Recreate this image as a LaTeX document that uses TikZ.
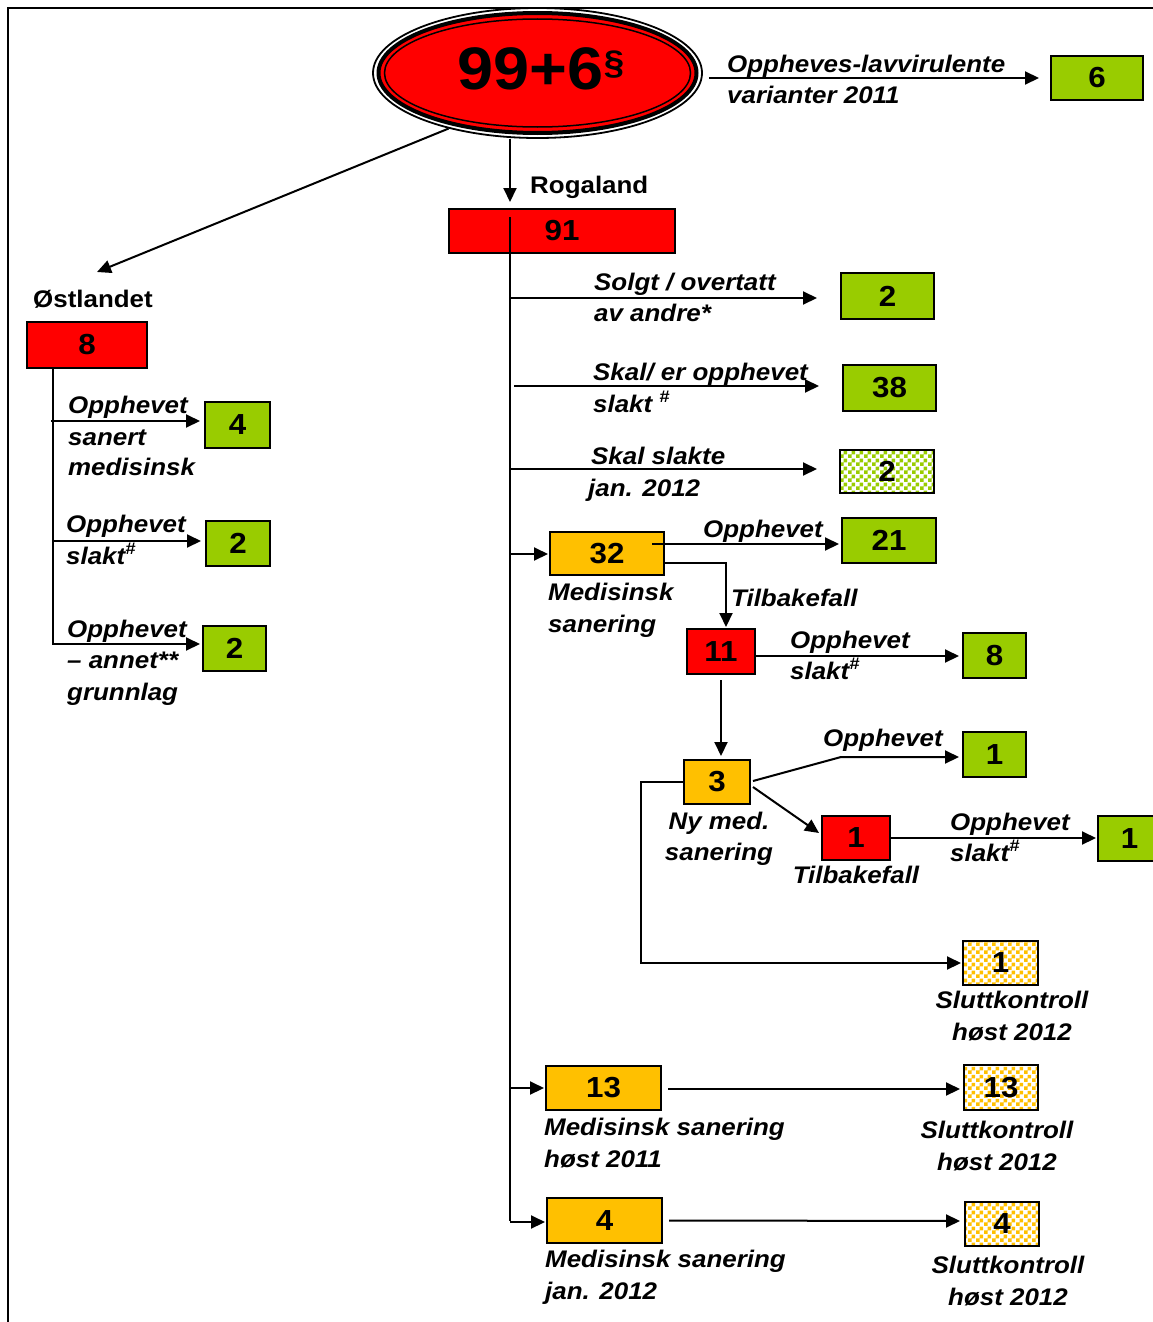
\documentclass[tikz,border=0pt]{standalone}
\usepackage{fontspec}
\setmainfont{Liberation Sans}[FakeStretch=1.08]
\usetikzlibrary{arrows.meta,patterns,shapes.geometric}
\definecolor{rd}{RGB}{255,0,0}
\definecolor{gr}{RGB}{153,204,0}
\definecolor{orn}{RGB}{255,192,0}
\pgfdeclarepatternformonly{chk}{\pgfpointorigin}{\pgfqpoint{8pt}{8pt}}{\pgfqpoint{8pt}{8pt}}{%
  \pgfpathrectangle{\pgfpointorigin}{\pgfqpoint{4pt}{4pt}}%
  \pgfpathrectangle{\pgfqpoint{4pt}{4pt}}{\pgfqpoint{4pt}{4pt}}%
  \pgfusepath{fill}}
\begin{document}
\begin{tikzpicture}[x=1pt,y=-1pt,
  lw/.style={line width=2pt},
  arr/.style={line width=2pt,-{Triangle[length=14pt,width=13pt]}},
  box/.style={draw,line width=2pt,inner sep=0pt,font=\fontsize{29}{29}\selectfont\bfseries},
  gbox/.style={box,fill=gr},
  rbox/.style={box,fill=rd},
  obox/.style={box,fill=orn},
  gchk/.style={box,preaction={fill=white},pattern=chk,pattern color=gr},
  ochk/.style={box,preaction={fill=white},pattern=chk,pattern color=orn},
  lbl/.style={anchor=base west,inner sep=0pt,font=\fontsize{24}{24}\selectfont\bfseries\itshape},
  clbl/.style={lbl,anchor=base},
  hdr/.style={anchor=base west,inner sep=0pt,font=\fontsize{24}{24}\selectfont\bfseries},
]
\useasboundingbox (0,0) rectangle (1153,1322);
% frame
\draw[line width=2.5pt] (8,1330) -- (8,8) -- (1160,8);

% top ellipse
\node[ellipse,draw,line width=1.8pt,fill=white,minimum width=329,minimum height=130,inner sep=0pt] (ell) at (537.5,73) {};
\draw[line width=4pt,fill=rd] (ell.center) ellipse [x radius=159, y radius=60];
\draw[line width=1.5pt] (ell.center) ellipse [x radius=153, y radius=54];
\node[anchor=base,inner sep=0pt,font=\fontsize{60}{60}\selectfont\bfseries] (big) at (541,89) {99+6\raisebox{15pt}{\fontsize{34}{34}\selectfont §}};

% boxes
\node[gbox,minimum width=92,minimum height=44] (b6) at (1097,78) {6};
\node[rbox,minimum width=226,minimum height=44] (b91) at (562,231) {91};
\node[gbox,minimum width=93,minimum height=46] (b2s) at (887.5,296) {2};
\node[gbox,minimum width=93,minimum height=46] (b38) at (889.5,388) {38};
\node[gchk,minimum width=94,minimum height=43] (b2k) at (887,471.5) {2};
\node[obox,minimum width=114,minimum height=43] (b32) at (607,553.5) {32};
\node[gbox,minimum width=94,minimum height=45] (b21) at (889,540.5) {21};
\node[rbox,minimum width=68,minimum height=45] (b11) at (721,651.5) {11};
\node[gbox,minimum width=63,minimum height=45] (b8) at (994.5,655.5) {8};
\node[obox,minimum width=66,minimum height=44] (b3) at (717,782) {3};
\node[gbox,minimum width=63,minimum height=45] (b1a) at (994.5,754.5) {1};
\node[rbox,minimum width=68,minimum height=44] (b1r) at (856,838) {1};
\node[gbox,minimum width=63,minimum height=45] (b1b) at (1129.5,838.5) {1};
\node[ochk,minimum width=75,minimum height=44] (b1c) at (1000.5,963) {1};
\node[obox,minimum width=115,minimum height=44] (b13) at (603.5,1088) {13};
\node[ochk,minimum width=74,minimum height=45] (b13c) at (1001,1087.5) {13};
\node[obox,minimum width=115,minimum height=45] (b4) at (604.5,1220.5) {4};
\node[ochk,minimum width=74,minimum height=44] (b4c) at (1002,1224) {4};
\node[rbox,minimum width=120,minimum height=46] (bo8) at (87,345) {8};
\node[gbox,minimum width=65,minimum height=46] (bo4) at (237.5,425) {4};
\node[gbox,minimum width=64,minimum height=45] (bo2a) at (238,543.5) {2};
\node[gbox,minimum width=63,minimum height=45] (bo2b) at (234.5,648.5) {2};

% headings
\node[hdr] (hR) at (530,193) {Rogaland};
\node[hdr] (hO) at (33,307) {Østlandet};

% connectors top
\coordinate (tr) at (510,0);
\coordinate (ol) at (53,0);
\coordinate (oT) at (97,272);
\draw[arr] ([shift={(6,5)}]ell.east) -- ([shift={(-11,0)}]b6.west);
\draw[arr] (ell.212) -- (oT);
\draw[arr,shorten >=6pt] (ell.south -| tr) -- (b91.north -| tr);
\draw[lw] (510,217) -- (b4.west -| tr);

% trunk branches
\draw[arr,shorten >=23pt] (tr |- 0,298) -- (b2s.west |- 0,298);
\draw[arr,shorten >=23pt] (514,386) -- (b38.west |- 0,386);
\draw[arr,shorten >=22pt] (tr |- 0,469) -- (b2k.west |- 0,469);
\draw[arr,shorten >=1pt] (tr |- 0,554) -- (b32.west |- 0,554);
\draw[arr,shorten >=1pt] (tr |- 0,1088) -- (b13.west |- 0,1088);
\draw[arr,shorten >=1pt] (tr |- 0,1222) -- (b4.west |- 0,1222);

% sub branches
\draw[arr,shorten >=2pt] (652,544) -- (b21.west |- 0,544);
\draw[arr,shorten >=1pt] (b32.east |- 0,563) -| ([shift={(5,0)}]b11.north);
\draw[arr,shorten >=3pt] (b11.east |- 0,656) -- (b8.west |- 0,656);
\draw[arr,shorten >=3pt] (b11.south |- 0,680) -- (b11.south |- b3.north);
\draw[arr,shorten >=3pt] ([shift={(2,-1)}]b3.east) -- (841,757) -- (b1a.west |- 0,757);
\draw[arr] ([shift={(2,5)}]b3.east) -- ([shift={(-2,-5)}]b1r.west);
\draw[arr,shorten >=1pt] (b1r.east) -- (b1b.west |- 0,838);
\draw[arr,shorten >=1pt] (b3.west) -- (641,782) |- (b1c.west);
\draw[arr,shorten >=3pt] ([shift={(6,1)}]b13.east) -- (b13c.west |- 0,1089);
\draw[arr,shorten >=4pt] ([shift={(6,0)}]b4.east) -- (b4c.west |- 0,1221);

% left branches
\draw[arr,shorten >=2pt] (bo8.south -| ol) |- (bo2b.west |- 0,644);
\draw[arr,shorten >=4pt] (51,421) -- (bo4.west |- 0,421);
\draw[arr,shorten >=4pt] (ol |- 0,541) -- (bo2a.west |- 0,541);

% labels
\node[lbl] (t1) at (727,72) {Oppheves-lavvirulente};
\node[lbl] (t2) at (727,103) {varianter 2011};
\node[lbl] (t3) at (594,290) {Solgt / overtatt};
\node[lbl] (t4) at (594,321) {av andre*};
\node[lbl] (t5) at (593,380) {Skal/ er opphevet};
\node[lbl] (t6) at (593,412) {slakt \textsuperscript{\#}};
\node[lbl] (t7) at (591,464) {Skal slakte};
\node[lbl] (t8) at (588,496) {jan. 2012};
\node[lbl] (t9) at (548,600) {Medisinsk};
\node[lbl] (t10) at (548,632) {sanering};
\node[lbl] (t11) at (703,537) {Opphevet};
\node[lbl] (t12) at (731,606) {Tilbakefall};
\node[lbl] (t13) at (790,648) {Opphevet};
\node[lbl] (t14) at (790,679) {slakt\textsuperscript{\#}};
\node[clbl] (t15) at (719,829) {Ny med.};
\node[clbl] (t16) at (719,860) {sanering};
\node[lbl] (t17) at (823,746) {Opphevet};
\node[clbl] (t18) at (856,883) {Tilbakefall};
\node[lbl] (t19) at (950,830) {Opphevet};
\node[lbl] (t20) at (950,861) {slakt\textsuperscript{\#}};
\node[clbl] (t21) at (1012,1008) {Sluttkontroll};
\node[clbl] (t22) at (1012,1040) {høst 2012};
\node[lbl] (t23) at (544,1135) {Medisinsk sanering};
\node[lbl] (t24) at (544,1167) {høst 2011};
\node[clbl] (t25) at (997,1138) {Sluttkontroll};
\node[clbl] (t26) at (997,1170) {høst 2012};
\node[lbl] (t27) at (545,1267) {Medisinsk sanering};
\node[lbl] (t28) at (545,1299) {jan. 2012};
\node[clbl] (t29) at (1008,1273) {Sluttkontroll};
\node[clbl] (t30) at (1008,1305) {høst 2012};
\node[lbl] (t31) at (68,413) {Opphevet};
\node[lbl] (t32) at (68,445) {sanert};
\node[lbl] (t33) at (68,475) {medisinsk};
\node[lbl] (t34) at (66,532) {Opphevet};
\node[lbl] (t35) at (66,564) {slakt\textsuperscript{\#}};
\node[lbl] (t36) at (67,637) {Opphevet};
\node[lbl] (t37) at (67,668) {– annet**};
\node[lbl] (t38) at (67,700) {grunnlag};
\end{tikzpicture}
\end{document}
